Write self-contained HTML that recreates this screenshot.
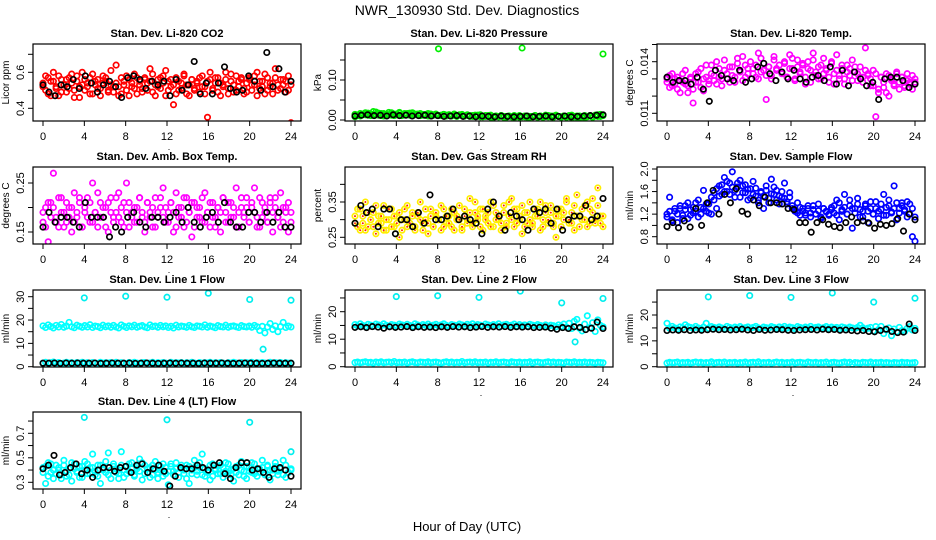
<!DOCTYPE html>
<html><head><meta charset="utf-8">
<style>
html,body{margin:0;padding:0;background:#fff;}
svg{display:block;font-family:"Liberation Sans",sans-serif;}
</style></head>
<body>
<svg id="chart" width="936" height="540" viewBox="0 0 936 540" xmlns="http://www.w3.org/2000/svg">
<text x="467" y="15" text-anchor="middle" font-size="14">NWR_130930  Std. Dev. Diagnostics</text>
<text x="467" y="531" text-anchor="middle" font-size="13">Hour of Day (UTC)</text>
</svg>
<script>
// ---- data arrays (hour of day derived from sample index across 0..24) ----
const hourTicks = [0,4,8,12,16,20,24];
const co2 = [0.54,0.50,0.57,0.47,0.55,0.52,0.58,0.49,0.53,0.56,0.51,0.59,0.46,0.55,0.52,0.60,0.50,0.54,0.57,0.48,0.53,0.56,0.51,0.58,0.55,0.49,0.61,0.52,0.54,0.47,0.57,0.53,0.50,0.56,0.52,0.59,0.48,0.55,0.51,0.57,0.54,0.62,0.49,0.53,0.56,0.51,0.58,0.47,0.55,0.52,0.42,0.57,0.50,0.54,0.59,0.48,0.53,0.56,0.51,0.55,0.49,0.58,0.52,0.35,0.56,0.50,0.54,0.57,0.47,0.53,0.60,0.51,0.55,0.49,0.58,0.52,0.56,0.48,0.54,0.57,0.50,0.53,0.60,0.51,0.55,0.48,0.57,0.52,0.54,0.62,0.50,0.56,0.53,0.49,0.58,0.32];
const co2B = [0.52,0.58,0.48,0.55,0.60,0.51,0.47,0.56,0.53,0.49,0.57,0.54,0.50,0.58,0.46,0.53,0.56,0.52,0.48,0.59,0.55,0.51,0.47,0.54,0.57,0.50,0.53,0.49,0.64,0.52,0.48,0.55,0.58,0.47,0.54,0.51,0.57,0.53,0.49,0.56,0.50,0.55,0.59,0.47,0.52,0.57,0.54,0.61,0.50,0.56,0.53,0.48,0.55,0.51,0.58,0.53,0.47,0.56,0.50,0.54,0.57,0.52,0.48,0.55,0.60,0.51,0.57,0.49,0.54,0.52,0.56,0.48,0.59,0.53,0.50,0.55,0.57,0.51,0.49,0.56,0.53,0.58,0.47,0.55,0.52,0.59,0.50,0.54,0.48,0.57,0.53,0.51,0.56,0.55,0.50,0.53];
const co2Black = [0.53,0.49,0.47,0.53,0.52,0.56,0.51,0.58,0.54,0.49,0.53,0.55,0.52,0.46,0.57,0.58,0.56,0.51,0.55,0.53,0.55,0.47,0.56,0.50,0.53,0.66,0.48,0.54,0.48,0.54,0.63,0.51,0.49,0.50,0.58,0.55,0.50,0.71,0.52,0.62,0.49,0.55];
const press = [0.008,0.012,0.010,0.015,0.013,0.017,0.011,0.014,0.020,0.012,0.016,0.010,0.014,0.013,0.018,0.011,0.015,0.019,0.012,0.016,0.014,0.017,0.011,0.015,0.013,0.016,0.012,0.014,0.010,0.015,0.012,0.013,0.178,0.011,0.014,0.012,0.013,0.010,0.015,0.011,0.012,0.014,0.010,0.013,0.011,0.009,0.012,0.010,0.013,0.008,0.011,0.009,0.012,0.007,0.010,0.008,0.011,0.009,0.007,0.010,0.008,0.011,0.009,0.007,0.180,0.008,0.010,0.007,0.009,0.011,0.008,0.010,0.007,0.009,0.011,0.008,0.010,0.012,0.009,0.007,0.010,0.008,0.011,0.006,0.009,0.007,0.010,0.008,0.006,0.009,0.011,0.007,0.010,0.013,0.009,0.165];
const pressB = [0.014,0.011,0.016,0.013,0.018,0.012,0.015,0.021,0.013,0.017,0.011,0.016,0.014,0.019,0.012,0.015,0.013,0.017,0.011,0.014,0.016,0.012,0.018,0.013,0.015,0.011,0.014,0.012,0.016,0.010,0.013,0.015,0.011,0.012,0.014,0.010,0.013,0.011,0.012,0.009,0.013,0.011,0.010,0.012,0.009,0.011,0.010,0.012,0.008,0.010,0.009,0.011,0.007,0.009,0.010,0.008,0.011,0.007,0.009,0.010,0.008,0.006,0.009,0.011,0.008,0.010,0.007,0.009,0.008,0.011,0.007,0.010,0.009,0.012,0.008,0.010,0.007,0.011,0.009,0.008,0.010,0.007,0.009,0.012,0.008,0.010,0.006,0.009,0.011,0.008,0.010,0.007,0.012,0.009,0.014,0.011];
const pressBlack = [0.010,0.012,0.013,0.011,0.012,0.010,0.013,0.011,0.012,0.010,0.011,0.012,0.010,0.011,0.009,0.010,0.011,0.009,0.010,0.008,0.010,0.009,0.008,0.010,0.009,0.008,0.009,0.010,0.008,0.009,0.010,0.008,0.009,0.010,0.008,0.009,0.010,0.011,0.012,0.013];
const temp = [0.0128,0.0132,0.0126,0.0130,0.0124,0.0129,0.0133,0.0127,0.0122,0.0131,0.0116,0.0128,0.0134,0.0125,0.0130,0.0138,0.0127,0.0133,0.0129,0.0140,0.0131,0.0126,0.0135,0.0130,0.0137,0.0132,0.0128,0.0139,0.0134,0.0143,0.0131,0.0136,0.0152,0.0133,0.0138,0.0130,0.0142,0.0135,0.0118,0.0137,0.0132,0.0141,0.0136,0.0153,0.0134,0.0139,0.0131,0.0144,0.0136,0.0129,0.0141,0.0134,0.0138,0.0127,0.0140,0.0135,0.0145,0.0132,0.0137,0.0130,0.0142,0.0135,0.0128,0.0139,0.0133,0.0144,0.0130,0.0136,0.0127,0.0138,0.0132,0.0141,0.0134,0.0129,0.0137,0.0131,0.0148,0.0133,0.0126,0.0135,0.0108,0.0122,0.0131,0.0125,0.0133,0.0120,0.0130,0.0127,0.0134,0.0124,0.0131,0.0126,0.0133,0.0128,0.0124,0.0130];
const tempB = [0.0130,0.0125,0.0133,0.0127,0.0131,0.0122,0.0128,0.0135,0.0126,0.0130,0.0124,0.0133,0.0128,0.0136,0.0123,0.0131,0.0129,0.0138,0.0132,0.0127,0.0136,0.0130,0.0141,0.0133,0.0128,0.0137,0.0131,0.0142,0.0135,0.0129,0.0138,0.0133,0.0140,0.0136,0.0131,0.0145,0.0134,0.0139,0.0132,0.0137,0.0130,0.0143,0.0135,0.0138,0.0133,0.0140,0.0131,0.0136,0.0142,0.0130,0.0137,0.0133,0.0139,0.0131,0.0136,0.0128,0.0141,0.0134,0.0130,0.0138,0.0133,0.0136,0.0131,0.0140,0.0127,0.0135,0.0132,0.0138,0.0130,0.0134,0.0136,0.0129,0.0137,0.0133,0.0131,0.0128,0.0135,0.0132,0.0130,0.0126,0.0133,0.0124,0.0131,0.0128,0.0122,0.0132,0.0129,0.0126,0.0133,0.0128,0.0131,0.0125,0.0129,0.0127,0.0132,0.0128];
const tempBlack = [0.0131,0.0128,0.0129,0.0129,0.0127,0.0131,0.0124,0.0117,0.0135,0.0132,0.0130,0.0129,0.0135,0.0128,0.0130,0.0137,0.0139,0.0133,0.0129,0.0134,0.0130,0.0135,0.0130,0.0128,0.0131,0.0132,0.0129,0.0137,0.0127,0.0135,0.0126,0.0134,0.0130,0.0126,0.0128,0.0118,0.0130,0.0131,0.0131,0.0129,0.0125,0.0127];
const amb = [0.17,0.20,0.13,0.21,0.27,0.18,0.16,0.22,0.19,0.17,0.20,0.15,0.23,0.18,0.21,0.16,0.19,0.22,0.17,0.25,0.19,0.16,0.21,0.18,0.20,0.15,0.22,0.18,0.19,0.23,0.17,0.21,0.25,0.16,0.19,0.20,0.17,0.22,0.18,0.15,0.21,0.19,0.16,0.22,0.18,0.20,0.24,0.17,0.19,0.21,0.15,0.23,0.18,0.20,0.16,0.22,0.19,0.14,0.21,0.18,0.20,0.17,0.23,0.19,0.16,0.21,0.18,0.20,0.15,0.22,0.19,0.17,0.21,0.18,0.24,0.16,0.20,0.19,0.22,0.17,0.20,0.24,0.18,0.16,0.21,0.19,0.17,0.22,0.15,0.20,0.18,0.23,0.17,0.20,0.15,0.19];
const ambB = [0.19,0.16,0.21,0.18,0.20,0.17,0.22,0.19,0.16,0.21,0.18,0.20,0.17,0.19,0.22,0.16,0.20,0.18,0.21,0.17,0.19,0.23,0.18,0.20,0.16,0.21,0.19,0.17,0.22,0.18,0.20,0.16,0.19,0.21,0.18,0.17,0.20,0.22,0.19,0.17,0.21,0.18,0.20,0.16,0.19,0.22,0.18,0.20,0.17,0.21,0.19,0.16,0.20,0.18,0.22,0.17,0.19,0.21,0.16,0.20,0.18,0.22,0.17,0.19,0.21,0.18,0.16,0.20,0.19,0.22,0.17,0.21,0.18,0.20,0.16,0.19,0.22,0.18,0.20,0.17,0.21,0.19,0.16,0.22,0.18,0.20,0.17,0.21,0.19,0.22,0.18,0.16,0.20,0.19,0.21,0.17];
const ambBlack = [0.16,0.19,0.17,0.18,0.18,0.17,0.16,0.21,0.18,0.18,0.18,0.14,0.16,0.15,0.18,0.19,0.17,0.16,0.18,0.18,0.17,0.18,0.19,0.17,0.20,0.17,0.16,0.18,0.19,0.17,0.21,0.17,0.16,0.16,0.19,0.19,0.17,0.19,0.17,0.19,0.16,0.16];
const rh = [0.29,0.33,0.27,0.31,0.35,0.28,0.30,0.32,0.26,0.31,0.29,0.34,0.27,0.30,0.33,0.28,0.31,0.25,0.30,0.33,0.28,0.29,0.32,0.27,0.31,0.35,0.29,0.30,0.26,0.33,0.28,0.31,0.30,0.27,0.33,0.29,0.31,0.28,0.32,0.30,0.34,0.27,0.31,0.29,0.36,0.28,0.32,0.30,0.33,0.27,0.31,0.29,0.35,0.28,0.32,0.30,0.27,0.34,0.29,0.31,0.36,0.28,0.33,0.30,0.26,0.32,0.29,0.35,0.28,0.31,0.33,0.27,0.30,0.34,0.29,0.32,0.28,0.25,0.31,0.33,0.30,0.35,0.29,0.32,0.27,0.37,0.31,0.30,0.34,0.28,0.33,0.36,0.29,0.39,0.31,0.28];
const rhB = [0.31,0.28,0.33,0.29,0.27,0.32,0.30,0.28,0.34,0.29,0.31,0.27,0.30,0.33,0.28,0.31,0.29,0.32,0.27,0.30,0.34,0.29,0.31,0.28,0.32,0.30,0.27,0.33,0.29,0.31,0.28,0.32,0.30,0.34,0.28,0.31,0.29,0.33,0.27,0.31,0.30,0.28,0.33,0.30,0.32,0.29,0.35,0.31,0.28,0.33,0.30,0.32,0.28,0.34,0.30,0.31,0.29,0.32,0.28,0.35,0.30,0.33,0.29,0.31,0.34,0.28,0.32,0.30,0.29,0.33,0.31,0.35,0.28,0.32,0.30,0.34,0.29,0.31,0.33,0.28,0.32,0.36,0.30,0.29,0.34,0.31,0.28,0.33,0.30,0.35,0.29,0.32,0.30,0.34,0.29,0.31];
const rhBlack = [0.29,0.34,0.32,0.33,0.28,0.33,0.33,0.26,0.30,0.30,0.28,0.32,0.29,0.37,0.30,0.30,0.31,0.33,0.30,0.31,0.30,0.29,0.26,0.33,0.35,0.31,0.27,0.32,0.31,0.30,0.27,0.33,0.32,0.33,0.29,0.33,0.27,0.30,0.31,0.31,0.34,0.30,0.31,0.36];
const flow = [1.20,1.50,1.10,1.25,1.05,1.30,1.18,1.35,1.12,1.28,1.22,1.40,1.15,1.32,1.62,1.25,1.38,1.20,1.45,1.30,1.70,1.55,1.85,1.60,1.75,1.95,1.50,1.68,1.80,1.58,1.72,1.45,1.65,1.78,1.52,1.40,1.60,1.30,1.70,1.48,1.82,1.55,1.62,1.38,1.50,1.75,1.42,1.58,1.30,1.25,1.40,1.18,1.30,1.22,1.35,1.15,1.28,1.20,1.38,1.12,1.30,1.25,1.18,1.32,1.22,1.45,1.10,1.28,1.55,1.20,1.35,0.95,1.30,1.48,1.15,1.25,1.38,1.05,1.30,1.20,1.42,1.12,1.28,1.55,1.18,1.35,1.22,1.70,1.10,1.30,1.40,1.25,1.15,1.38,0.80,0.72];
const flowB = [1.15,1.25,1.08,1.30,1.20,1.35,1.12,1.28,1.40,1.18,1.32,1.25,1.45,1.20,1.30,1.38,1.22,1.50,1.58,1.65,1.52,1.72,1.60,1.78,1.55,1.68,1.62,1.75,1.50,1.70,1.58,1.64,1.48,1.55,1.66,1.45,1.58,1.52,1.62,1.40,1.56,1.68,1.45,1.52,1.60,1.48,1.38,1.50,1.35,1.28,1.22,1.32,1.25,1.18,1.30,1.22,1.35,1.20,1.26,1.15,1.30,1.24,1.20,1.28,1.35,1.18,1.40,1.25,1.32,1.20,1.45,1.30,1.22,1.38,1.28,1.15,1.35,1.25,1.42,1.20,1.30,1.25,1.38,1.18,1.32,1.45,1.24,1.30,1.40,1.22,1.35,1.28,1.42,1.20,1.30,1.15];
const flowBlack = [0.98,1.05,0.96,1.08,0.97,1.30,1.00,1.40,1.62,1.20,1.55,1.40,1.65,1.25,1.20,1.45,1.35,1.50,1.40,1.40,1.38,1.30,1.28,1.05,1.05,0.88,1.05,1.10,1.02,0.98,0.96,1.05,1.15,1.05,1.08,1.04,0.95,1.02,1.00,1.03,1.12,0.90,1.20,1.10];
const line1 = [17.5,16.8,17.9,17.2,16.6,17.7,17.0,18.1,16.9,17.4,19.0,17.1,16.7,17.8,17.3,16.9,17.6,17.0,18.0,16.8,17.4,17.2,16.7,17.8,17.1,17.5,16.9,17.7,17.0,16.6,17.9,17.3,16.8,17.5,17.1,17.8,16.9,17.3,17.6,17.0,16.7,17.9,17.2,17.4,16.9,17.7,17.1,17.5,16.8,17.3,16.6,17.8,17.0,17.4,17.2,16.9,17.7,17.1,16.8,17.5,17.3,17.0,17.9,16.9,17.4,17.1,16.7,17.6,17.2,17.0,17.8,16.9,17.3,17.5,17.1,16.8,17.6,17.2,17.0,17.4,16.9,17.7,17.1,15.5,17.3,14.5,17.0,18.5,16.0,17.5,15.0,17.2,19.0,16.8,17.4,17.0];
const line1Low = [1.6,1.9,1.4,1.7,2.0,1.5,1.8,1.3,1.6,1.9,1.5,1.7,1.4,1.8,1.6,1.9,1.5,1.7,1.3,1.8,1.6,1.4,1.9,1.5,1.7,1.6,1.8,1.4,1.9,1.5,1.7,1.6,1.3,1.8,1.5,1.9,1.6,1.4,1.7,1.8,1.5,1.6,1.9,1.4,1.7,1.5,1.8,1.6,1.4,1.9,1.5,1.7,1.6,1.8,1.3,1.7,1.5,1.9,1.6,1.4,1.8,1.5,1.7,1.6,1.9,1.4,1.7,1.5,1.8,1.6,1.3,1.7,1.5,1.9,1.6,1.4,1.8,1.5,1.7,1.6,1.9,1.4,1.7,1.5,1.8,1.6,1.4,1.9,1.5,1.7,1.6,1.8,1.4,1.7,1.5,1.6];
const line1Black = [1.5,1.5,1.6,1.4,1.6,1.5,1.6,1.5,1.5,1.6,1.4,1.5,1.6,1.5,1.5,1.6,1.4,1.5,1.6,1.5,1.4,1.5,1.6,1.5,1.6,1.5,1.5,1.4,1.6,1.5,1.5,1.6,1.5,1.4,1.5,1.6,1.5,1.5,1.4,1.5,1.6,1.5,1.5,1.5];
const line1OutHours = [4,8,12,16,20,24,21.3];
const line1OutVals = [29.5,30.2,29.8,31.5,28.8,28.5,7.5];
const line2 = [15.3,14.8,15.6,15.0,14.6,15.4,15.1,14.7,15.5,15.2,14.9,15.6,15.0,14.7,15.3,15.1,14.8,15.5,15.2,14.9,15.4,15.0,14.7,15.6,15.2,14.8,15.3,15.0,15.5,14.9,15.1,15.4,14.8,15.2,15.6,15.0,14.7,15.3,15.1,14.9,15.5,15.2,14.8,15.4,15.0,15.6,14.9,15.3,15.1,14.7,15.5,15.2,14.9,15.3,15.0,15.6,14.8,15.2,15.4,14.9,15.1,15.5,14.8,15.3,15.0,15.2,14.7,15.4,15.1,14.9,15.3,15.0,14.8,15.2,14.6,15.1,14.9,14.5,15.2,14.7,15.5,14.4,15.8,13.9,16.5,17.2,14.0,13.0,15.5,18.5,14.2,16.0,12.8,17.0,15.0,14.5];
const line2Low = [1.5,1.7,1.4,1.6,1.8,1.5,1.6,1.3,1.7,1.5,1.8,1.4,1.6,1.7,1.5,1.9,1.4,1.6,1.5,1.7,1.3,1.6,1.8,1.5,1.4,1.7,1.6,1.5,1.8,1.4,1.6,1.7,1.5,1.3,1.6,1.8,1.5,1.7,1.4,1.6,1.5,1.9,1.4,1.6,1.7,1.5,1.8,1.4,1.6,1.5,1.7,1.3,1.6,1.5,1.8,1.4,1.6,1.7,1.5,1.4,1.8,1.6,1.5,1.7,1.4,1.6,1.5,1.8,1.3,1.6,1.7,1.5,1.4,1.6,1.8,1.5,1.7,1.4,1.6,1.5,1.3,1.7,1.6,1.5,1.8,1.4,1.6,1.5,1.7,1.4,1.6,1.5,1.3,1.6,1.5,1.4];
const line2Black = [14.3,14.5,14.2,14.6,14.4,14.0,14.5,14.3,14.4,14.6,14.2,14.5,14.3,14.4,14.2,14.5,14.3,14.6,14.4,14.5,14.2,14.4,14.6,14.3,14.5,14.4,14.6,14.3,14.5,14.4,14.5,14.2,14.3,14.4,14.0,13.6,14.2,13.9,14.5,14.3,13.5,14.0,16.2,13.9];
const line2OutHours = [4,8,12,16,20,24,21.3];
const line2OutVals = [25.5,25.8,25.2,27.5,23.2,24.8,9.0];
const line3 = [16.8,14.9,15.6,15.0,14.6,15.4,15.1,16.2,15.5,15.2,14.9,15.6,15.0,14.7,15.3,16.8,14.8,15.5,15.2,14.9,15.4,15.0,14.7,15.6,15.2,14.8,15.3,15.0,15.5,14.9,15.1,15.4,14.8,15.2,15.6,15.0,14.7,15.3,15.1,14.9,15.5,15.2,14.8,15.4,15.0,15.6,14.9,15.3,15.1,14.7,15.5,15.2,14.9,15.3,15.0,15.6,14.8,15.2,15.4,14.9,15.1,15.5,14.8,15.3,15.0,15.2,14.7,15.4,15.1,14.9,15.3,15.0,14.8,15.2,16.0,15.1,14.5,14.9,15.2,13.8,15.5,14.4,15.6,12.8,14.2,15.0,12.0,14.6,13.5,15.2,14.0,13.6,14.8,15.5,14.2,14.8];
const line3Low = [1.4,1.7,1.5,1.6,1.8,1.4,1.6,1.5,1.7,1.3,1.6,1.8,1.5,1.7,1.4,1.6,1.5,1.9,1.4,1.6,1.7,1.5,1.8,1.4,1.6,1.5,1.7,1.3,1.6,1.5,1.8,1.4,1.6,1.7,1.5,1.9,1.4,1.6,1.5,1.7,1.3,1.6,1.8,1.5,1.7,1.4,1.6,1.5,1.8,1.4,1.6,1.7,1.5,1.4,1.8,1.6,1.5,1.7,1.4,1.6,1.5,1.8,1.3,1.6,1.7,1.5,1.4,1.6,1.8,1.5,1.7,1.0,1.6,1.5,1.3,1.7,1.6,1.5,1.8,1.4,1.6,1.5,1.7,1.4,1.6,1.5,1.3,1.6,1.5,1.4,1.7,1.5,1.6,1.4,1.5,1.6];
const line3Black = [14.0,14.2,14.1,14.3,14.0,14.2,14.1,14.3,14.5,14.3,14.4,14.2,14.3,14.5,14.2,14.0,14.4,14.1,14.2,14.4,14.3,14.1,14.0,14.2,14.3,14.4,14.2,14.5,14.3,14.4,14.1,14.2,14.0,13.8,14.0,13.6,13.5,14.0,14.5,13.6,13.2,13.4,16.5,14.0];
const line3OutHours = [4,8,12,16,20,24];
const line3OutVals = [27.0,27.5,26.8,28.5,25.0,26.5];
const line4 = [0.42,0.29,0.46,0.38,0.33,0.44,0.40,0.36,0.48,0.35,0.41,0.31,0.45,0.39,0.43,0.34,0.47,0.37,0.42,0.53,0.36,0.44,0.29,0.40,0.38,0.54,0.33,0.45,0.41,0.37,0.55,0.34,0.43,0.39,0.46,0.35,0.41,0.49,0.32,0.44,0.38,0.42,0.36,0.47,0.33,0.40,0.45,0.37,0.28,0.43,0.39,0.46,0.34,0.41,0.37,0.44,0.29,0.40,0.48,0.36,0.42,0.53,0.35,0.39,0.32,0.45,0.41,0.37,0.44,0.34,0.46,0.38,0.40,0.31,0.43,0.36,0.47,0.39,0.33,0.42,0.38,0.45,0.35,0.41,0.48,0.37,0.43,0.32,0.40,0.46,0.36,0.42,0.48,0.34,0.38,0.41];
const line4B = [0.38,0.43,0.35,0.45,0.40,0.37,0.42,0.33,0.44,0.39,0.36,0.46,0.41,0.38,0.34,0.43,0.40,0.45,0.37,0.42,0.39,0.35,0.44,0.41,0.47,0.36,0.40,0.43,0.38,0.33,0.44,0.40,0.37,0.45,0.41,0.36,0.43,0.39,0.46,0.37,0.41,0.34,0.44,0.40,0.38,0.43,0.35,0.42,0.39,0.45,0.36,0.41,0.38,0.44,0.40,0.33,0.43,0.37,0.42,0.39,0.46,0.36,0.41,0.38,0.44,0.35,0.40,0.43,0.37,0.42,0.39,0.45,0.36,0.41,0.38,0.44,0.40,0.35,0.43,0.39,0.46,0.37,0.41,0.38,0.42,0.36,0.44,0.40,0.37,0.43,0.39,0.41,0.36,0.44,0.38,0.40];
const line4Black = [0.41,0.44,0.52,0.36,0.38,0.42,0.45,0.37,0.40,0.34,0.40,0.42,0.42,0.39,0.42,0.43,0.38,0.44,0.45,0.38,0.41,0.44,0.39,0.27,0.35,0.42,0.41,0.41,0.44,0.42,0.40,0.44,0.46,0.37,0.33,0.42,0.46,0.46,0.40,0.41,0.38,0.34,0.41,0.42,0.40,0.35];
const line4OutHours = [4,12,20,24];
const line4OutVals = [0.83,0.81,0.79,0.55];

// ---- layout ----
const NS = 'http://www.w3.org/2000/svg';
const svg = document.getElementById('chart');
const colLeft = [33,345,657];
const rowTop = [44,167,290,412];
const boxW = 268, boxH = 77;

const panels = [
 {key:'co2',title:'Stan. Dev. Li-820 CO2',ylab:'Licor ppm',c:0,r:0,cal:[0.4,108.3,0.6,72.3],ticks:[0.4,0.5,0.6,0.7],labels:[[0.4,'0.4'],[0.6,'0.6']],series:[[co2,'#ff0000'],[co2B,'#ff0000'],[co2Black,'#000000']]},
 {key:'pressure',title:'Stan. Dev. Li-820 Pressure',ylab:'kPa',c:1,r:0,cal:[0,120,0.1,80],ticks:[0,0.05,0.10,0.15],labels:[[0,'0.00'],[0.1,'0.10']],series:[[press,'#00ee00'],[pressB,'#00ee00'],[pressBlack,'#000000']]},
 {key:'li820-temp',title:'Stan. Dev. Li-820 Temp.',ylab:'degrees C',c:2,r:0,cal:[0.011,113.3,0.014,61.7],ticks:[0.011,0.012,0.013,0.014,0.015],labels:[[0.011,'0.011'],[0.014,'0.014']],series:[[temp,'#ff00ff'],[tempB,'#ff00ff'],[tempBlack,'#000000']]},
 {key:'amb-box-temp',title:'Stan. Dev. Amb. Box Temp.',ylab:'degrees C',c:0,r:1,cal:[0.15,232,0.25,183],ticks:[0.15,0.20,0.25],labels:[[0.15,'0.15'],[0.25,'0.25']],series:[[amb,'#ff00ff'],[ambB,'#ff00ff'],[ambBlack,'#000000']]},
 {key:'gas-stream-rh',title:'Stan. Dev. Gas Stream RH',ylab:'percent',c:1,r:1,cal:[0.25,237.3,0.35,202],ticks:[0.25,0.30,0.35,0.40],labels:[[0.25,'0.25'],[0.35,'0.35']],series:[[rh,'#ffee00','rh'],[rhB,'#ffee00','rh'],[rhBlack,'#000000']]},
 {key:'sample-flow',title:'Stan. Dev. Sample Flow',ylab:'ml/min',c:2,r:1,cal:[0.8,236.7,2.0,169],ticks:[0.8,1.0,1.2,1.4,1.6,1.8,2.0],labels:[[0.8,'0.8'],[1.2,'1.2'],[1.6,'1.6'],[2.0,'2.0']],series:[[flow,'#0000ff'],[flowB,'#0000ff'],[flowBlack,'#000000']]},
 {key:'line1-flow',title:'Stan. Dev. Line 1 Flow',ylab:'ml/min',c:0,r:2,cal:[0,366.7,30,296.7],ticks:[0,5,10,15,20,25,30],labels:[[0,'0'],[10,'10'],[20,'20'],[30,'30']],series:[[line1,'#00ffff'],[line1Low,'#00ffff'],[line1Black,'#000000']],out:[line1OutHours,line1OutVals,'#00eeee']},
 {key:'line2-flow',title:'Stan. Dev. Line 2 Flow',ylab:'ml/min',c:1,r:2,cal:[0,366.7,20,311.7],ticks:[0,5,10,15,20,25],labels:[[0,'0'],[10,'10'],[20,'20']],series:[[line2,'#00ffff'],[line2Low,'#00ffff'],[line2Black,'#000000']],out:[line2OutHours,line2OutVals,'#00eeee']},
 {key:'line3-flow',title:'Stan. Dev. Line 3 Flow',ylab:'ml/min',c:2,r:2,cal:[0,366.7,20,315],ticks:[0,5,10,15,20,25],labels:[[0,'0'],[10,'10'],[20,'20']],series:[[line3,'#00ffff'],[line3Low,'#00ffff'],[line3Black,'#000000']],out:[line3OutHours,line3OutVals,'#00eeee']},
 {key:'line4-flow',title:'Stan. Dev. Line 4 (LT) Flow',ylab:'ml/min',c:0,r:3,cal:[0.3,482.3,0.7,433.3],ticks:[0.3,0.4,0.5,0.6,0.7,0.8],labels:[[0.3,'0.3'],[0.5,'0.5'],[0.7,'0.7']],series:[[line4,'#00ffff'],[line4B,'#00ffff'],[line4Black,'#000000']],out:[line4OutHours,line4OutVals,'#00eeee']}
];

function mk(tag, attrs, parent){
  const e = document.createElementNS(NS, tag);
  for (const k in attrs) e.setAttribute(k, attrs[k]);
  (parent||svg).appendChild(e);
  return e;
}

panels.forEach(p => {
  const L = colLeft[p.c], T = rowTop[p.r];
  const g = mk('g', {});
  
  
  const xS = h => L + 10 + h / 24 * 248;
  const [v1, p1, v2, p2] = p.cal;
  const yS = v => p1 + (v - v1) * (p2 - p1) / (v2 - v1);
  const t = mk('text', {x: L + boxW/2, y: T - 7, 'text-anchor':'middle', 'font-size':'11', 'font-weight':'bold'}, g);
  t.textContent = p.title;
  
  
  const cp = mk('clipPath', {id: 'clip-' + p.key}, g);
  mk('rect', {x: L, y: T, width: boxW, height: boxH}, cp);
  const pts = mk('g', {'clip-path': 'url(#clip-' + p.key + ')'}, g);
  
  
  const drawSeries = (hours, vals, col, kind) => {
    vals.forEach((v, i) => {
      const h = hours ? hours[i] : i * 24 / (vals.length - 1);
      const cx = xS(h), cy = yS(v);
      const c = mk('circle', {cx: cx.toFixed(1), cy: cy.toFixed(1), r: 2.7, fill: 'none', stroke: col, 'stroke-width': 1.7}, pts);
      
      
      if (kind === 'rh') {
        const d = mk('circle', {cx: cx.toFixed(1), cy: cy.toFixed(1), r: 1.0, fill: '#ff2000'}, pts);
        
        
      }
    });
  };
  p.series.forEach(s => {
    if (s[1] === '#000000') return;
    drawSeries(null, s[0], s[1], s[2]);
  });
  if (p.out) drawSeries(p.out[0], p.out[1], p.out[2]);
  p.series.forEach(s => {
    if (s[1] === '#000000') drawSeries(null, s[0], s[1]);
  });
  const box = mk('rect', {x: L, y: T, width: boxW, height: boxH, fill: 'none', stroke: '#000', 'stroke-width': 1.2}, g);
  
  
  const by = T + boxH;
  hourTicks.forEach(h => {
    mk('line', {x1: xS(h), x2: xS(h), y1: by, y2: by + 5, stroke: '#000', 'stroke-width': 1}, g);
    const tl = mk('text', {x: xS(h), y: by + 19, 'text-anchor': 'middle', 'font-size': '11'}, g);
    tl.textContent = h;
    
    
  });
  mk('text', {x: xS(12.2), y: by + 29, 'text-anchor': 'middle', 'font-size': '9'}, g).textContent = '.';
  p.ticks.forEach(v => {
    mk('line', {x1: L - 5, x2: L, y1: yS(v), y2: yS(v), stroke: '#000', 'stroke-width': 1}, g);
  });
  p.labels.forEach(([v, s]) => {
    const yl = mk('text', {x: 0, y: 0, 'text-anchor': 'middle', 'font-size': '11', transform: 'translate(' + (L - 9) + ',' + yS(v).toFixed(1) + ') rotate(-90)'}, g);
    yl.textContent = s;
    
    
  });
  const yt = mk('text', {x: 0, y: 0, 'text-anchor': 'middle', 'font-size': '10', transform: 'translate(' + (L - 24) + ',' + (T + boxH/2) + ') rotate(-90)'}, g);
  yt.textContent = p.ylab;
  
  
});
</script>
</body></html>
